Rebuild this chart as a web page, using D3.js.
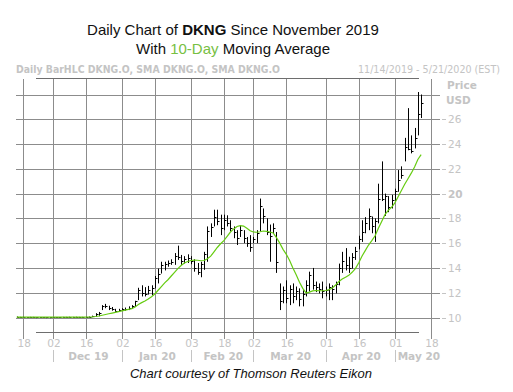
<!DOCTYPE html>
<html><head><meta charset="utf-8">
<script src="https://cdnjs.cloudflare.com/ajax/libs/d3/7.8.5/d3.min.js"></script>
<style>body{margin:0;background:#fff}svg{display:block}</style>
</head><body>
<svg id="c" width="513" height="392"></svg>
<script>
// trading days, Nov 14 2019 .. May 13 2020 (index -2 .. 121)
const dates = [
"2019-11-14","2019-11-15","2019-11-18","2019-11-19","2019-11-20","2019-11-21","2019-11-22","2019-11-25","2019-11-26","2019-11-27","2019-11-29",
"2019-12-02","2019-12-03","2019-12-04","2019-12-05","2019-12-06","2019-12-09","2019-12-10","2019-12-11","2019-12-12","2019-12-13","2019-12-16","2019-12-17","2019-12-18","2019-12-19","2019-12-20","2019-12-23","2019-12-24","2019-12-26","2019-12-27","2019-12-30","2019-12-31",
"2020-01-02","2020-01-03","2020-01-06","2020-01-07","2020-01-08","2020-01-09","2020-01-10","2020-01-13","2020-01-14","2020-01-15","2020-01-16","2020-01-17","2020-01-21","2020-01-22","2020-01-23","2020-01-24","2020-01-27","2020-01-28","2020-01-29","2020-01-30","2020-01-31",
"2020-02-03","2020-02-04","2020-02-05","2020-02-06","2020-02-07","2020-02-10","2020-02-11","2020-02-12","2020-02-13","2020-02-14","2020-02-18","2020-02-19","2020-02-20","2020-02-21","2020-02-24","2020-02-25","2020-02-26","2020-02-27","2020-02-28",
"2020-03-02","2020-03-03","2020-03-04","2020-03-05","2020-03-06","2020-03-09","2020-03-10","2020-03-11","2020-03-12","2020-03-13","2020-03-16","2020-03-17","2020-03-18","2020-03-19","2020-03-20","2020-03-23","2020-03-24","2020-03-25","2020-03-26","2020-03-27","2020-03-30","2020-03-31",
"2020-04-01","2020-04-02","2020-04-03","2020-04-06","2020-04-07","2020-04-08","2020-04-09","2020-04-13","2020-04-14","2020-04-15","2020-04-16","2020-04-17","2020-04-20","2020-04-21","2020-04-22","2020-04-23","2020-04-24","2020-04-27","2020-04-28","2020-04-29","2020-04-30",
"2020-05-01","2020-05-04","2020-05-05","2020-05-06","2020-05-07","2020-05-08","2020-05-11","2020-05-12","2020-05-13"];
const firstIndex = -2; // Nov 14 sits two trading days before the Nov 18 tick

const high = [10.08,10.05,10.06,10.04,10.05,10.05,10.03,10.04,10.04,10.03,10.03,
10.04,10.04,10.04,10.05,10.05,10.06,10.05,10.06,10.05,10.05,10.06,10.08,10.15,10.35,10.45,11.00,11.10,10.95,10.85,10.70,10.70,
10.75,10.80,10.90,11.00,11.35,12.40,12.60,12.45,12.55,12.60,13.35,13.95,14.50,14.50,14.60,14.70,15.20,15.80,15.05,14.95,15.10,
14.95,14.70,14.40,14.50,15.30,17.35,17.60,18.70,18.70,18.30,18.30,18.25,17.85,17.35,17.05,17.45,17.05,16.50,16.65,
16.50,17.05,19.60,18.80,18.00,17.50,17.60,16.90,12.75,12.50,13.00,12.60,12.75,12.50,12.35,12.20,13.00,13.70,14.00,12.90,12.75,12.90,
12.50,12.75,12.60,12.90,14.35,15.30,15.60,14.90,15.20,15.70,16.60,17.85,18.10,18.80,18.15,18.00,20.80,22.60,20.00,19.80,19.90,
20.40,21.90,22.20,24.50,26.90,24.70,25.30,28.20,28.00];
const low = [10.00,10.00,10.00,10.00,10.01,10.00,10.00,10.00,10.01,10.01,10.01,
10.00,10.01,10.01,10.01,10.01,10.02,10.01,10.02,10.02,10.02,10.02,10.03,10.03,10.05,10.10,10.60,10.75,10.60,10.55,10.47,10.50,
10.55,10.55,10.60,10.70,10.90,11.40,11.70,11.70,11.85,11.80,12.35,12.75,13.55,13.80,14.10,14.25,14.25,14.65,14.25,14.35,14.40,
14.30,13.70,13.45,13.25,13.85,14.50,16.50,17.35,17.45,16.65,17.05,17.35,16.95,16.40,15.85,16.50,16.00,15.70,15.30,
16.00,16.00,16.95,17.60,16.65,14.50,16.80,13.60,10.60,11.15,11.15,11.00,11.15,11.40,10.90,10.90,11.70,12.10,12.25,12.05,11.95,11.55,
11.70,11.40,11.40,11.95,12.60,13.60,13.80,13.60,13.95,14.65,15.50,16.10,16.80,17.05,16.80,16.10,17.60,19.40,18.20,18.50,18.80,
19.35,20.15,21.20,22.60,23.50,23.25,23.65,24.70,26.10];
const close = [10.05,10.02,10.03,10.02,10.03,10.02,10.02,10.02,10.03,10.02,10.02,
10.02,10.03,10.02,10.03,10.03,10.04,10.03,10.04,10.03,10.04,10.04,10.06,10.10,10.25,10.35,10.90,10.95,10.80,10.65,10.55,10.60,
10.65,10.70,10.80,10.90,11.30,12.20,12.00,11.90,12.20,12.40,13.20,13.50,14.20,14.30,14.40,14.50,15.00,14.90,14.60,14.70,14.80,
14.60,14.00,13.70,14.30,15.10,17.00,17.30,18.10,17.80,17.20,17.90,17.60,17.20,16.90,16.40,17.10,16.40,16.00,15.70,
16.30,16.80,19.00,18.20,16.90,16.60,17.20,14.50,11.30,12.20,11.60,12.30,11.70,12.10,11.50,11.90,12.60,13.40,12.60,12.50,12.30,12.10,
12.20,12.50,12.30,12.70,14.00,14.60,14.20,14.00,14.90,15.40,16.30,16.90,17.60,18.20,17.40,17.80,19.60,19.60,19.80,18.90,19.50,
20.20,21.10,21.50,23.80,23.60,23.40,24.50,26.40,27.30];
const sma10 = [10.03,10.03,10.03,10.03,10.03,10.03,10.03,10.03,10.03,10.03,10.03,
10.03,10.03,10.03,10.03,10.03,10.03,10.03,10.03,10.03,10.03,10.03,10.04,10.05,10.08,10.12,10.18,10.24,10.30,10.36,10.42,10.48,
10.54,10.60,10.66,10.72,10.85,11.05,11.20,11.33,11.50,11.68,11.90,12.20,12.50,12.80,13.05,13.35,13.65,13.95,14.20,14.40,14.52,
14.60,14.63,14.62,14.58,14.60,14.75,14.95,15.30,15.65,15.95,16.20,16.55,16.90,17.15,17.35,17.42,17.38,17.20,17.00,
16.90,16.88,16.92,16.98,16.95,16.90,16.82,16.45,16.00,15.50,15.10,14.60,14.00,13.45,12.85,12.35,11.98,12.05,12.15,12.18,12.16,12.16,
12.18,12.25,12.38,12.62,12.90,13.10,13.25,13.40,13.65,13.95,14.40,14.95,15.40,15.85,16.20,16.60,17.20,17.75,18.30,18.65,18.90,
19.25,19.75,20.25,20.75,21.20,21.65,22.15,22.75,23.15];

const yTicks = [10,12,14,16,18,20,22,24,26,28];
const yLabels = ["10","12","14","16","18","20","22","24","26",""];
const xTickIdx = [0,9,19,30,40,51,61,70,80,92,102,113,124];
const xTickLabels = ["18","02","16","02","16","03","18","02","16","01","16","01","18"];
const monthStart = [9,30,51,70,92,113];
const monthEnd = [30,51,70,92,113,127];
const monthLabels = ["Dec 19","Jan 20","Feb 20","Mar 20","Apr 20","May 20"];

const svg = d3.select("#c");
const x = d3.scaleLinear().domain([0,124]).range([23.3,431]);
const y = d3.scaleLinear().domain([10,28]).range([317.5,94.5]);
const px = v => Math.round(v) + 0.5;
const grey = "#c4c4c4";
const gridC = "#8c8c8c";

svg.append("rect").attr("width",513).attr("height",392).attr("fill","#fff");

// title
const t1 = svg.append("text").attr("x",233).attr("y",35).attr("text-anchor","middle")
  .attr("font-family","Liberation Sans, Arial, sans-serif").attr("font-size",15).attr("fill","#111");
t1.append("tspan").text("Daily Chart of ");
t1.append("tspan").attr("font-weight","bold").text("DKNG");
t1.append("tspan").text(" Since November 2019");
const t2 = svg.append("text").attr("x",233).attr("y",54).attr("text-anchor","middle")
  .attr("font-family","Liberation Sans, Arial, sans-serif").attr("font-size",15).attr("fill","#111");
t2.append("tspan").text("With ");
t2.append("tspan").attr("fill","#77c043").text("10-Day");
t2.append("tspan").text(" Moving Average");

// header row
svg.append("text").attr("x",16).attr("y",73).attr("font-family","DejaVu Sans, sans-serif")
  .attr("font-size",10.5).attr("font-weight","bold").attr("fill",grey)
  .attr("textLength",264).attr("lengthAdjust","spacingAndGlyphs")
  .text("Daily BarHLC DKNG.O, SMA DKNG.O, SMA DKNG.O");
svg.append("text").attr("x",500).attr("y",73).attr("text-anchor","end").attr("font-family","DejaVu Sans, sans-serif")
  .attr("font-size",10.5).attr("fill",grey)
  .attr("textLength",142).attr("lengthAdjust","spacingAndGlyphs")
  .text("11/14/2019 - 5/21/2020 (EST)");

// horizontal grid
svg.append("g").selectAll("line").data(yTicks).join("line")
  .attr("x1",16).attr("x2",440).attr("y1",d=>px(y(d))).attr("y2",d=>px(y(d)))
  .attr("stroke",gridC).attr("stroke-width",1);
// vertical grid
svg.append("g").selectAll("line").data(xTickIdx).join("line")
  .attr("x1",d=>px(x(d))).attr("x2",d=>px(x(d))).attr("y1",79).attr("y2",339)
  .attr("stroke",gridC).attr("stroke-width",1);
// top and bottom frame lines
[78.5,332.5].forEach(yy=>svg.append("line").attr("x1",36).attr("x2",419).attr("y1",yy).attr("y2",yy)
  .attr("stroke","#6e6e6e").attr("stroke-width",1));

// y axis labels
const yl = svg.append("g");
yl.selectAll("line").data(yTicks.filter((d,i)=>yLabels[i]!=="")).join("line")
  .attr("x1",442).attr("x2",446).attr("y1",d=>px(y(d))).attr("y2",d=>px(y(d)))
  .attr("stroke",grey);
yl.selectAll("text").data(yTicks.map((d,i)=>({v:d,l:yLabels[i]})).filter(d=>d.l!=="")).join("text")
  .attr("x",448).attr("y",d=>y(d.v)+4).attr("font-family","DejaVu Sans, sans-serif").attr("font-size",10.5)
  .attr("font-weight",d=>d.v===20?"bold":"normal").attr("fill",grey).text(d=>d.l);
svg.append("text").attr("x",447).attr("y",89).attr("font-family","DejaVu Sans, sans-serif").attr("font-size",10.5)
  .attr("font-weight","bold").attr("fill",grey).text("Price");
svg.append("text").attr("x",446).attr("y",104).attr("font-family","DejaVu Sans, sans-serif").attr("font-size",10.5)
  .attr("font-weight","bold").attr("fill",grey).text("USD");

// x axis labels
svg.append("g").selectAll("text").data(xTickIdx).join("text")
  .attr("x",d=>x(d)+1).attr("y",347).attr("text-anchor","middle").attr("font-family","DejaVu Sans, sans-serif")
  .attr("font-size",10.5).attr("fill",grey).text((d,i)=>xTickLabels[i]);
svg.append("g").selectAll("line").data(monthStart).join("line")
  .attr("x1",d=>px(x(d))).attr("x2",d=>px(x(d))).attr("y1",350).attr("y2",362).attr("stroke",grey);
svg.append("g").selectAll("text").data(monthLabels).join("text")
  .attr("x",(d,i)=>(x(monthStart[i])+x(monthEnd[i]))/2+1).attr("y",360).attr("text-anchor","middle")
  .attr("font-family","DejaVu Sans, sans-serif").attr("font-size",10.5).attr("font-weight","bold")
  .attr("fill",grey).text(d=>d);

// bars (high-low with close tick)
const bars = dates.map((d,k)=>({i:k+firstIndex,h:high[k],l:low[k],c:close[k],s:sma10[k]}));
const bg = svg.append("g");
bg.selectAll("line.hl").data(bars).join("line").attr("class","hl")
  .attr("x1",d=>px(x(d.i))).attr("x2",d=>px(x(d.i)))
  .attr("y1",d=>y(d.h)).attr("y2",d=>Math.max(y(d.l),y(d.h)+1))
  .attr("stroke","#000").attr("stroke-width",1);
bg.selectAll("line.cl").data(bars).join("line").attr("class","cl")
  .attr("x1",d=>px(x(d.i))).attr("x2",d=>px(x(d.i))+2)
  .attr("y1",d=>px(y(d.c))).attr("y2",d=>px(y(d.c)))
  .attr("stroke","#000").attr("stroke-width",1);

// SMA line
svg.append("path").datum(bars)
  .attr("d",d3.line().x(d=>x(d.i)).y(d=>y(d.s)))
  .attr("fill","none").attr("stroke","#66cc11").attr("stroke-width",1.2);

// footer
svg.append("text").attr("x",251).attr("y",378).attr("text-anchor","middle")
  .attr("font-family","Liberation Sans, Arial, sans-serif").attr("font-style","italic").attr("font-size",13)
  .attr("fill","#111").text("Chart courtesy of Thomson Reuters Eikon");
</script>
</body></html>
